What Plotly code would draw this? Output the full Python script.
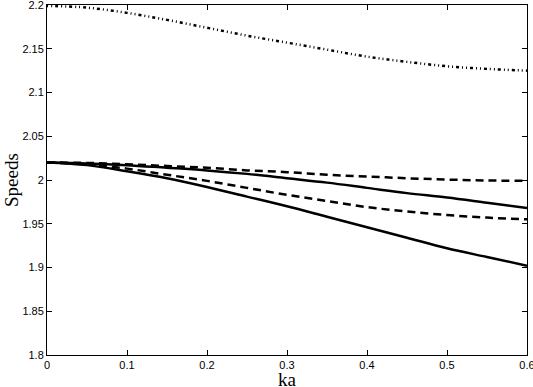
import plotly.graph_objects as go

# wavenumber ka
ka = [0, 0.05, 0.1, 0.15, 0.2, 0.25, 0.3, 0.35, 0.4, 0.45, 0.5, 0.55, 0.6]

# speeds
speed_top = [2.199, 2.197, 2.191, 2.183, 2.174, 2.165, 2.157, 2.149, 2.141, 2.135, 2.130, 2.127, 2.125]
speed_solid_upper = [2.020, 2.019, 2.017, 2.014, 2.011, 2.007, 2.002, 1.997, 1.991, 1.985, 1.980, 1.974, 1.968]
speed_dash_upper = [2.020, 2.0195, 2.018, 2.016, 2.014, 2.011, 2.009, 2.006, 2.004, 2.002, 2.0005, 1.9995, 1.999]
speed_dash_lower = [2.020, 2.018, 2.013, 2.006, 1.999, 1.991, 1.983, 1.976, 1.969, 1.964, 1.960, 1.957, 1.955]
speed_solid_lower = [2.020, 2.017, 2.010, 2.002, 1.992, 1.981, 1.970, 1.958, 1.946, 1.934, 1.922, 1.912, 1.902]

x_ticks = [0, 0.1, 0.2, 0.3, 0.4, 0.5, 0.6]
x_ticktext = ["0", "0.1", "0.2", "0.3", "0.4", "0.5", "0.6"]
y_ticks = [1.8, 1.85, 1.9, 1.95, 2.0, 2.05, 2.1, 2.15, 2.2]
y_ticktext = ["1.8", "1.85", "1.9", "1.95", "2", "2.05", "2.1", "2.15", "2.2"]

fig = go.Figure()

fig.add_trace(go.Scatter(x=ka, y=speed_top, mode='lines', line_shape='spline',
                         line=dict(color='black', width=2.5, dash='1px,3px,1px,3px,3px,3px')))
fig.add_trace(go.Scatter(x=ka, y=speed_solid_upper, mode='lines', line_shape='spline',
                         line=dict(color='black', width=2.5)))
fig.add_trace(go.Scatter(x=ka, y=speed_dash_upper, mode='lines', line_shape='spline',
                         line=dict(color='black', width=2.5, dash='8px,5px')))
fig.add_trace(go.Scatter(x=ka, y=speed_dash_lower, mode='lines', line_shape='spline',
                         line=dict(color='black', width=2.5, dash='8px,5px')))
fig.add_trace(go.Scatter(x=ka, y=speed_solid_lower, mode='lines', line_shape='spline',
                         line=dict(color='black', width=2.5)))

axis_style = dict(
    showline=True, linecolor='black', linewidth=1, mirror='ticks',
    ticks='inside', ticklen=5, tickcolor='black', showgrid=False, zeroline=False,
    automargin=False, ticklabeloverflow='allow',
    tickfont=dict(family='Liberation Sans, Arial', size=11, color='black'),
)

fig.update_xaxes(range=[-1e-6, 0.600001], tickvals=x_ticks, ticktext=x_ticktext, **axis_style)
fig.update_yaxes(range=[1.8 - 1e-6, 2.200001], tickvals=y_ticks, ticktext=y_ticktext, **axis_style)

title_font = dict(family='Liberation Serif, Times New Roman', size=19, color='black')
fig.add_annotation(text='ka', xref='paper', yref='paper', x=0.5, y=0, yshift=-24,
                   xanchor='center', yanchor='middle', showarrow=False, font=title_font)
fig.add_annotation(text='Speeds', xref='paper', yref='paper', x=0, xshift=-36, y=0.5,
                   textangle=-90, xanchor='center', yanchor='middle', showarrow=False, font=title_font)

fig.update_layout(
    width=533, height=387,
    margin=dict(l=47, r=6, t=5, b=32),
    plot_bgcolor='white', paper_bgcolor='white',
    showlegend=False,
)

fig.write_html("out.html", config={'displayModeBar': False},
               post_script="document.body.style.margin='0';")
